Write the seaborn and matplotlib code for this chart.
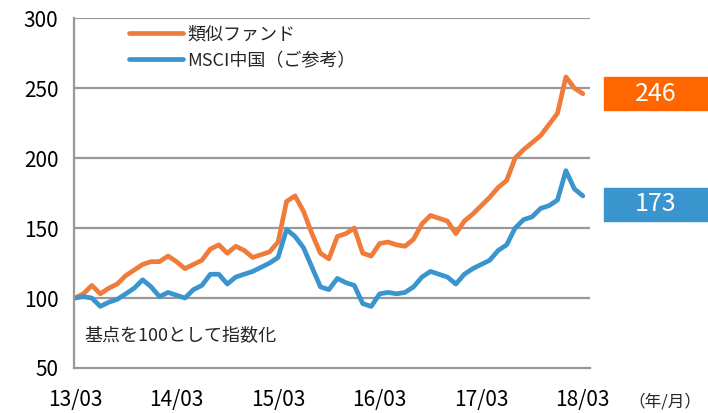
import numpy as np
import pandas as pd
import matplotlib
matplotlib.use('Agg')
import matplotlib.pyplot as plt
import seaborn as sns

# monthly index values, 13/03 .. 18/03
months = pd.date_range('2013-03-01', '2018-03-01', freq='MS')
fund = [100, 103, 109, 103, 107, 110, 116, 120, 124, 126, 126, 130,
        126, 121, 124, 127, 135, 138, 132, 137, 134, 129, 131, 133,
        140, 169, 173, 162, 146, 132, 128, 144, 146, 150, 132, 130,
        139, 140, 138, 137, 142, 153, 159, 157, 155, 146, 155, 160,
        166, 172, 179, 184, 200, 206, 211, 216, 224, 232, 258, 250,
        246]
msci = [100, 101, 100, 94, 97, 99, 103, 107, 113, 108, 101, 104,
        102, 100, 106, 109, 117, 117, 110, 115, 117, 119, 122, 125,
        129, 149, 144, 136, 122, 108, 106, 114, 111, 109, 96, 94,
        103, 104, 103, 104, 108, 115, 119, 117, 115, 110, 117, 121,
        124, 127, 134, 138, 150, 156, 158, 164, 166, 170, 191, 178,
        173]
series_names = ['類似ファンド', 'MSCI中国（ご参考）']
tick_labels = ['13/03', '14/03', '15/03', '16/03', '17/03', '18/03']

colors = ['#F07C3C', '#3A95CF']
box_colors = ['#FF6600', '#3A95CF']

df = pd.DataFrame({
    'idx': list(range(len(months))) * 2,
    'value': fund + msci,
    'series': [series_names[0]] * len(fund) + [series_names[1]] * len(msci),
})

sns.set_style('white')
plt.rcParams['font.family'] = ['Noto Sans CJK JP', 'DejaVu Sans']

fig = plt.figure(figsize=(7.08, 4.13), dpi=100)
ax = fig.add_axes([0.104, 0.109, 0.73, 0.847])

sns.lineplot(data=df, x='idx', y='value', hue='series', palette=colors,
             linewidth=3.4, ax=ax, legend=False)

ax.set_xlim(-0.15, 60.9)
ax.set_ylim(50, 300)
ax.set_yticks([50, 100, 150, 200, 250, 300])
ax.set_xticks(range(0, 61, 12))
ax.set_xticklabels(tick_labels)
ax.set_xlabel('')
ax.set_ylabel('')
ax.tick_params(axis='both', labelsize=15, colors='#000000', length=6, width=1.2)
ax.tick_params(axis='both', color='#999999')
ax.tick_params(axis='x', pad=9)
ax.tick_params(axis='y', pad=5)

for y in [100, 150, 200, 250, 300]:
    ax.axhline(y, color='#999999', linewidth=1.6, zorder=0)
for s in ['top', 'right']:
    ax.spines[s].set_visible(False)
for s in ['left', 'bottom']:
    ax.spines[s].set_color('#999999')
    ax.spines[s].set_linewidth(1.6)

# legend
handles = [plt.Line2D([], [], color=c, linewidth=3.4) for c in colors]
ax.legend(handles, series_names, loc='upper left', bbox_to_anchor=(0.075, 1.025),
          frameon=False, fontsize=13, handlelength=3.0, handletextpad=0.25,
          labelspacing=0.45)

ax.text(0.02, 0.093, '基点を100として指数化', transform=ax.transAxes,
        fontsize=13, ha='left', va='center')
fig.text(0.888, 0.027, '（年/月）', fontsize=12, ha='left', va='center')

# end value boxes
for val, c, yc in [(fund[-1], box_colors[0], 0.773), (msci[-1], box_colors[1], 0.505)]:
    fig.patches.append(plt.Rectangle((0.853, yc - 0.04), 0.147, 0.08,
                                     transform=fig.transFigure, color=c))
    fig.text(0.926, yc, str(val), color='white', fontsize=18,
             ha='center', va='center')

fig.savefig('out.png', dpi=100)
